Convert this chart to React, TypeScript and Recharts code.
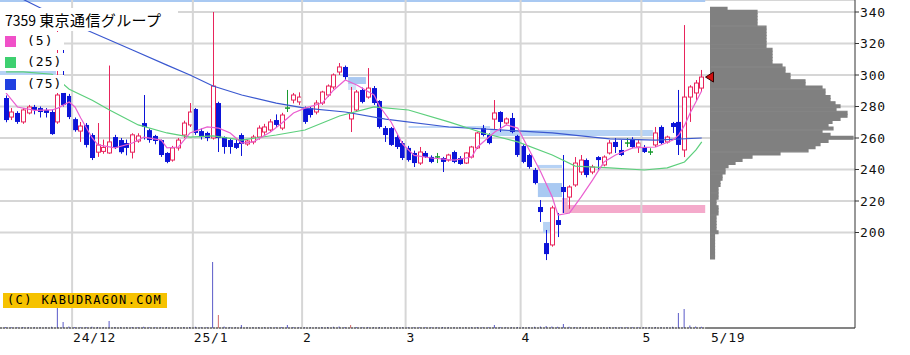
import React from 'react';
import {
  ComposedChart, Bar, Line, XAxis, YAxis, CartesianGrid,
  ReferenceLine, ReferenceArea, ReferenceDot, Cell,
} from 'recharts';

// ---------- data ----------
const opens = [
  285.4, 273.3, 275.9, 270.2, 275.9, 279.7, 279, 277.8, 276.5, 270.2,
  288.6, 286.7, 272, 264.4, 268.3, 261.9, 251, 251.5, 250.5, 260.6,
  258.7, 256.8, 251, 258.1, 269.5, 265, 261.3, 258.7, 250.5, 246,
  253.7, 261.9, 268.3, 278.4, 264.4, 263.2, 260, 282.2, 260.6, 258.7,
  256.8, 261.9, 256.2, 257.5, 260.6, 263.8, 265.1, 271.4, 266.3, 279,
  284.1, 282.9, 279, 279, 276.5, 282.2, 287.3, 292.4, 301.9, 305.1,
  272.1, 277.8, 290.5, 286, 291.7, 283.5, 266.3, 266.3, 260.6, 256.8,
  253.7, 250.5, 244.1, 250.5, 248, 248, 247.3, 246, 251.1, 247.3,
  244.1, 247.9, 253.7, 266.3, 261.9, 272, 276.5, 269.5, 272.7, 261.3,
  254.9, 249.2, 239.7, 216.2, 193.3, 192.1, 207.9, 228.9, 222.5, 230.2,
  238.4, 246, 238.4, 247.9, 242.9, 250.5, 257.5, 252.4, 256.8, 259.4,
  254.3, 254.3, 251.1, 255.6, 267, 257.5, 269.5, 270.2, 252.4, 286,
  288.6, 291.7,
];
const highs = [
  287, 279, 277, 279, 281, 281, 280, 279, 278, 331,
  316, 288, 273, 270.2, 269.5, 263, 269.5, 259, 306, 262,
  260, 259, 263, 263, 287.3, 266, 262, 259, 251, 255,
  260, 271, 282.2, 279, 266, 264, 340, 283, 261, 260,
  260, 263, 259, 262, 268, 269, 272, 275, 276, 290.5,
  288.6, 289, 280, 280, 284, 290, 294, 301, 307.6, 306,
  292.4, 290.5, 292, 304.4, 293, 284, 267.6, 267, 262, 258,
  255, 252, 254.3, 251.7, 249, 250.5, 248, 250, 252, 248.5,
  251, 255, 264, 268.3, 263, 284.1, 277, 273, 275.9, 262,
  256, 250, 241, 220.6, 201.6, 217, 212.4, 249.2, 230, 247.9,
  249.2, 247, 243, 248.5, 249, 258.7, 260, 258.7, 260, 260.5,
  258.7, 255.5, 253.5, 267, 268, 261.5, 270.2, 290.5, 331.7, 293.5,
  296.8, 303.2,
];
const lows = [
  270, 271.4, 269, 269, 275, 275, 273, 273, 262, 269,
  280, 272, 264, 257.5, 254, 246, 248, 250, 250, 253,
  250, 249, 247, 257, 259, 257, 256, 248, 244, 245,
  252, 260, 267, 262, 259, 258, 259, 251.1, 250, 250,
  253, 248.6, 255, 256, 259, 262, 264, 267, 265, 276.5,
  282, 281, 269, 273, 275, 281, 286, 291, 300, 297,
  263.8, 276.5, 282, 285, 281, 266, 257.5, 255, 253, 246,
  245, 241.6, 242.9, 247.3, 244, 244.1, 238.4, 245, 244, 243,
  243.5, 247, 253, 261, 256, 265.1, 263.8, 268.5, 263, 248,
  244, 240.5, 230.5, 206.7, 182.5, 191, 197.1, 212.4, 215, 229,
  236.5, 235, 237, 240, 242, 249.5, 250.5, 248.5, 254.3, 253.5,
  250.5, 250.5, 249.2, 254.3, 256, 256.5, 263.2, 249.2, 247.9, 270.2,
  284.1, 289.5,
];
const closes = [
  271.4, 276.5, 270.2, 277.8, 279.7, 277.8, 276.5, 275.9, 262.5, 287.3,
  281, 273.3, 265, 267.6, 255.6, 247.3, 255.6, 254, 257.5, 253.7,
  251, 253.7, 262, 261.3, 267, 258.7, 258.1, 249.2, 244.8, 253.7,
  258.7, 269.5, 276.5, 263.2, 260.6, 260, 293, 260, 254.3, 254.3,
  253.7, 256.2, 258.1, 260.6, 266.3, 267, 270.2, 268.3, 274.6, 279,
  287.3, 286, 270.2, 274.6, 282.2, 289.2, 293, 300, 305.1, 298.7,
  275.9, 289.2, 282.9, 291.7, 282.2, 267, 261.9, 255.6, 254.3, 247.3,
  246, 244.1, 251.1, 248, 244.8, 248, 244.8, 249.2, 244.8, 243.5,
  250.5, 254.3, 263.2, 261.9, 256.8, 275.9, 270.2, 272.1, 263.8, 249.2,
  244.8, 241.6, 231.4, 213, 186.3, 215.6, 204.8, 225.7, 228.9, 244.1,
  246, 236.5, 241.6, 246, 247.9, 256.8, 254.3, 249.2, 256.8, 254.3,
  256.8, 251.1, 251.1, 263.2, 256.8, 260.6, 267, 255.6, 286, 292.4,
  294.9, 298.7,
];
const volumes = [
  10, 8, 8, 10, 8, 8, 8, 8, 12, 220,
  60, 15, 10, 8, 10, 12, 10, 8, 70, 10,
  8, 8, 10, 8, 12, 8, 8, 8, 10, 8,
  8, 10, 10, 12, 8, 8, 660, 130, 15, 10,
  8, 30, 8, 8, 8, 8, 8, 8, 10, 30,
  10, 8, 8, 8, 8, 10, 10, 12, 15, 10,
  30, 10, 8, 10, 8, 10, 8, 8, 8, 8,
  8, 8, 8, 8, 8, 8, 10, 8, 8, 8,
  8, 8, 10, 8, 8, 30, 10, 8, 8, 10,
  8, 10, 12, 15, 20, 15, 12, 40, 12, 10,
  10, 8, 8, 8, 8, 10, 8, 8, 8, 8,
  8, 8, 8, 10, 8, 8, 12, 150, 190, 25,
  15, 12,
];
const volRedIdx = [37, 60];

const ma5Idx = [0, 2, 5, 8, 9, 11, 12, 13, 15, 16, 19, 22, 24, 27, 28, 30, 32, 35, 37, 39, 41, 43, 46, 48, 50, 52, 55, 57, 59, 61, 64, 65, 67, 69, 71, 74, 78, 81, 82, 85, 87, 89, 91, 93, 95, 96, 98, 100, 102, 104, 106, 109, 113, 116, 117, 118, 119, 120, 121];
const ma5Val = [288.6, 279.7, 277.5, 277.8, 279, 282.9, 279.7, 272.7, 260, 255.6, 253.7, 256.8, 260.6, 258.7, 253.7, 254.3, 263.2, 267, 266.3, 263.2, 256.8, 257.5, 263.8, 269.5, 275.9, 279, 282.2, 290.5, 296.8, 293.7, 287.3, 280, 270, 256, 249, 247.3, 246, 247.9, 254.3, 263.8, 268.3, 266.3, 252.4, 238.4, 222.5, 211.1, 212.4, 222.5, 233.3, 244.8, 249.2, 253.7, 254.3, 258.7, 262, 268, 276, 283, 290];

const ma25Idx = [0, 3, 8, 11, 15, 18, 23, 28, 32, 36, 41, 47, 52, 58, 64, 70, 77, 83, 89, 95, 99, 105, 111, 115, 118, 120, 121];
const ma25Val = [302, 302, 300.5, 291, 284, 277.8, 268.3, 263.2, 260.6, 261.3, 258.7, 261.9, 265.1, 274, 279.7, 277.8, 270.2, 263.2, 257.5, 249.2, 242.2, 241, 239.7, 241, 244.8, 252.4, 257.5];

const ma75Idx = [0, 3, 6, 14, 22, 28, 32, 36, 41, 47, 52, 59, 66, 77, 86, 95, 105, 113, 121];
const ma75Val = [356, 348, 342.5, 328.6, 315.9, 306.3, 300, 293, 287.3, 282.2, 279, 276.5, 272, 267, 265.1, 263.2, 259.4, 258.7, 260];

const monthTicks = [11.5, 32.5, 51.5, 69.5, 89.5, 110.5, 122.43];
const monthLabels = ['24/12', '25/1', '2', '3', '4', '5', '5/19'];
const monthLines = [11.5, 32.5, 51.5, 69.5, 89.5, 110.5];
const priceTicks = [200, 220, 240, 260, 280, 300, 320, 340];

const profilePrices = [
  342, 340, 338, 336, 334, 332, 330, 328, 326, 324, 322, 320, 318, 316, 314, 312, 310, 308, 306, 304,
  302, 300, 298, 296, 294, 292, 290, 288, 286, 284, 282, 280, 278, 276, 274, 272, 270, 268, 266, 264,
  262, 260, 258, 256, 254, 252, 250, 248, 246, 244, 242, 240, 238, 236, 234, 232, 230, 228, 226, 224,
  222, 220, 218, 216, 214, 212, 210, 208, 206, 204, 202, 200, 198, 196, 194, 192, 190, 188, 186, 184,
];
const profileVol = [
  170, 470, 470, 470, 470, 470, 560, 560, 560, 560, 560, 560, 560, 620, 620, 620, 620, 620, 720, 750,
  750, 800, 800, 950, 950, 1120, 1150, 1150, 1200, 1200, 1250, 1300, 1260, 1370, 1370, 1300, 1220, 1180, 1230, 1120,
  1200, 1430, 1180, 1100, 1050, 980, 700, 420, 320, 250, 180, 150, 150, 120, 120, 100, 100, 80, 80, 80,
  80, 60, 60, 80, 80, 80, 60, 60, 60, 60, 60, 80, 45, 45, 45, 45, 45, 45, 45, 45,
];

// window (gap) zones: [x1, x2, priceLow, priceHigh, color]
const zones: [number, number, number, number, string][] = [
  [-1.04, 121.6, 346.4, 347.62, '#a9c9f2'],
  [-1.04, 8.7, 299, 313.5, '#b6d2f5'],
  [59.5, 62.6, 294.3, 298.7, '#a9c9f2'],
  [59.5, 60.9, 290.5, 294.3, '#d2e3f9'],
  [70, 84.2, 266.3, 267.6, '#c2d9f6'],
  [84.2, 112.5, 261.3, 265.1, '#b6d2f5'],
  [92.5, 96.7, 240.9, 242.9, '#b6d2f5'],
  [92.5, 96.7, 222.5, 231.4, '#a9c9f2'],
  [93.4, 94.8, 199.7, 206.7, '#b6d2f5'],
  [96.7, 121.6, 212.4, 217.5, '#f4aacb'],
  [96.7, 97.7, 217.5, 221.9, '#f4aacb'],
];

// ---------- constants ----------
const X_MIN = -1.04;
const X_MAX = 147.65;
const Y_MIN = 139.37;
const Y_MAX = 347.62;
const RED = '#e8245c';
const BLUE = '#0c14d8';
const GREEN = '#189a30';
const MONO = '"DejaVu Sans Mono", monospace';

const CandleShape = (props: any) => {
  const { x, width, payload } = props;
  let { y, height } = props;
  if (!payload || y == null || height == null) return null;
  if (height < 0) { y = y + height; height = -height; }
  const { o, h, l, c } = payload;
  const span = h - l;
  const k = span > 0 ? height / span : 0;
  const cx = Math.round(x + width / 2) + 0.5;
  const yO = y + (h - o) * k;
  const yC = y + (h - c) * k;
  const top = Math.min(yO, yC);
  const bot = Math.max(yO, yC);
  const yH = y;
  const yL = y + height;
  if (c === o) {
    return (
      <g>
        <line x1={cx} x2={cx} y1={yH} y2={yL} stroke={GREEN} strokeWidth={1} />
        <line x1={cx - 2.5} x2={cx + 2.5} y1={top} y2={top} stroke={GREEN} strokeWidth={1.5} />
      </g>
    );
  }
  if (c > o) {
    const bh = Math.max(bot - top, 2);
    return (
      <g>
        <line x1={cx} x2={cx} y1={yH} y2={top} stroke={RED} strokeWidth={1} />
        <line x1={cx} x2={cx} y1={top + bh} y2={yL} stroke={RED} strokeWidth={1} />
        <rect x={cx - 2} y={top} width={4} height={bh} fill="#fff" stroke={RED} strokeWidth={1} />
      </g>
    );
  }
  return (
    <g>
      <line x1={cx} x2={cx} y1={yH} y2={yL} stroke={BLUE} strokeWidth={1} />
      <rect x={cx - 2.5} y={top} width={5} height={Math.max(bot - top, 1.5)} fill={BLUE} />
    </g>
  );
};

const renderXTick = (props: any) => {
  const { x, y, index } = props;
  return (
    <text x={x + 1} y={y} dy={12} fontSize={13} fontFamily={MONO} letterSpacing={0.8} fill="#111" textAnchor="start">
      {monthLabels[index]}
    </text>
  );
};

const Triangle = (props: any) => {
  const { cx, cy } = props;
  if (cx == null || cy == null) return null;
  return (
    <polygon
      points={`${cx - 4},${cy} ${cx + 4},${cy - 5} ${cx + 4},${cy + 5}`}
      fill="#d01010"
      stroke="#300"
      strokeWidth={1}
    />
  );
};

export default function App() {
  const rows: any[] = opens.map((o, i) => ({
    i, o, h: highs[i], l: lows[i], c: closes[i], v: volumes[i],
    ma5: null, ma25: null, ma75: null,
  }));
  ma5Idx.forEach((k, j) => { rows[k].ma5 = ma5Val[j]; });
  ma25Idx.forEach((k, j) => { rows[k].ma25 = ma25Val[j]; });
  ma75Idx.forEach((k, j) => { rows[k].ma75 = ma75Val[j]; });
  const profile = profilePrices.map((p, j) => ({ p, n: profileVol[j] }));
  const lastClose = closes[closes.length - 1];

  const legendRows = [
    { t: '(5)', c: '#f050c8', top: 32 },
    { t: '(25)', c: '#3ed070', top: 53 },
    { t: '(75)', c: '#2040e0', top: 75 },
  ];

  return (
    <div style={{ position: 'absolute', left: 0, top: 0, width: 910, height: 355, background: '#fff', overflow: 'hidden' }}>
      <div style={{ position: 'absolute', left: 0, top: 0 }}>
        <ComposedChart width={910} height={355} data={rows} margin={{ top: 0, right: 0, bottom: 0, left: 0 }}>
          <CartesianGrid vertical={false} stroke="#d6d6d6" strokeWidth={2} />
          <XAxis
            dataKey="i" type="number" domain={[X_MIN, X_MAX]} allowDataOverflow
            ticks={monthTicks} interval={0} height={27}
            axisLine={false} tickLine={false} tickSize={0} tickMargin={2}
            tick={renderXTick}
          />
          <XAxis xAxisId="v" dataKey="i" type="number" domain={[X_MIN, X_MAX]} allowDataOverflow hide />
          <YAxis
            orientation="right" type="number" domain={[Y_MIN, Y_MAX]} allowDataOverflow
            ticks={priceTicks} interval={0} width={55}
            axisLine={{ stroke: '#333' }} tickLine={{ stroke: '#333' }} tickSize={4} tickMargin={1}
            tick={{ fontSize: 13, fill: '#111', fontFamily: MONO, letterSpacing: 0.8 }}
          />
          <YAxis yAxisId="v" type="number" domain={[0, 3280]} allowDataOverflow hide />

          {monthLines.map((m) => (
            <ReferenceLine key={'m' + m} x={m} stroke="#d6d6d6" strokeWidth={2} />
          ))}
          {zones.map((z, k) => (
            <ReferenceArea key={'z' + k} x1={z[0]} x2={z[1]} y1={z[2]} y2={z[3]}
              fill={z[4]} fillOpacity={1} stroke="none" ifOverflow="hidden" />
          ))}

          <Bar xAxisId="v" yAxisId="v" dataKey="v" barSize={1} isAnimationActive={false}>
            {rows.map((r) => (
              <Cell key={'v' + r.i} fill={volRedIdx.includes(r.i) ? '#d06a6a' : '#5a5ac8'} />
            ))}
          </Bar>

          <Line dataKey="ma75" type="linear" stroke="#3a58d0" strokeWidth={1.2} dot={false} connectNulls isAnimationActive={false} />
          <Line dataKey="ma25" type="linear" stroke="#5ccf7c" strokeWidth={1.2} dot={false} connectNulls isAnimationActive={false} />
          <Line dataKey="ma5" type="linear" stroke="#ea5fd0" strokeWidth={1.2} dot={false} connectNulls isAnimationActive={false} />

          <Bar dataKey={(d: any) => [d.l, d.h]} barSize={5} shape={CandleShape} isAnimationActive={false} />

          <ReferenceLine segment={[{ x: X_MIN, y: Y_MIN }, { x: 121.7, y: Y_MIN }]} stroke="#333" strokeDasharray="2 1" ifOverflow="visible" />
          <ReferenceLine segment={[{ x: 121.7, y: Y_MIN }, { x: X_MAX, y: Y_MIN }]} stroke="#333" ifOverflow="visible" />
        </ComposedChart>
      </div>

      <div style={{ position: 'absolute', left: 0, top: 0 }}>
        <ComposedChart width={910} height={355} data={profile} layout="vertical" margin={{ top: 0, right: 55, bottom: 27, left: 710 }}>
          <XAxis type="number" domain={[0, 1450]} allowDataOverflow hide />
          <YAxis type="number" dataKey="p" domain={[Y_MIN, Y_MAX]} allowDataOverflow reversed hide />
          <Bar dataKey="n" fill="#808080" stroke="#808080" strokeWidth={1.2} barSize={5} isAnimationActive={false} />
          <ReferenceDot x={-5} y={lastClose} r={5} ifOverflow="visible" shape={Triangle} />
        </ComposedChart>
      </div>

      {/* legend */}
      <div style={{ position: 'absolute', left: 0, top: 8, width: 178, height: 23, background: '#fff' }} />
      <div style={{ position: 'absolute', left: 5, top: 10, whiteSpace: 'nowrap', lineHeight: '18px', color: '#000', fontFamily: '"Noto Sans CJK JP", sans-serif' }}>
        <span style={{ fontSize: 14 }}>7359 </span>
        <span style={{ fontSize: 15, letterSpacing: 0.4 }}>東京通信グループ</span>
      </div>
      {legendRows.map((r) => (
        <React.Fragment key={r.t}>
          <div style={{ position: 'absolute', left: 0, top: r.top, width: 64, height: 18, background: '#fff' }} />
          <div style={{ position: 'absolute', left: 5, top: r.top + 4, width: 11, height: 11, background: r.c }} />
          <div style={{ position: 'absolute', left: 27, top: r.top, lineHeight: '18px', fontSize: 13, fontFamily: MONO, letterSpacing: 1, color: '#000', whiteSpace: 'nowrap' }}>
            {r.t}
          </div>
        </React.Fragment>
      ))}

      {/* watermark */}
      <div style={{ position: 'absolute', left: 3, top: 293, width: 164, height: 15, background: '#f6c200' }} />
      <div style={{ position: 'absolute', left: 7, top: 293, lineHeight: '15px', fontSize: 12, fontFamily: MONO, letterSpacing: 1.4, color: '#000', whiteSpace: 'nowrap' }}>
        (C) KABUDRAGON.COM
      </div>
    </div>
  );
}
